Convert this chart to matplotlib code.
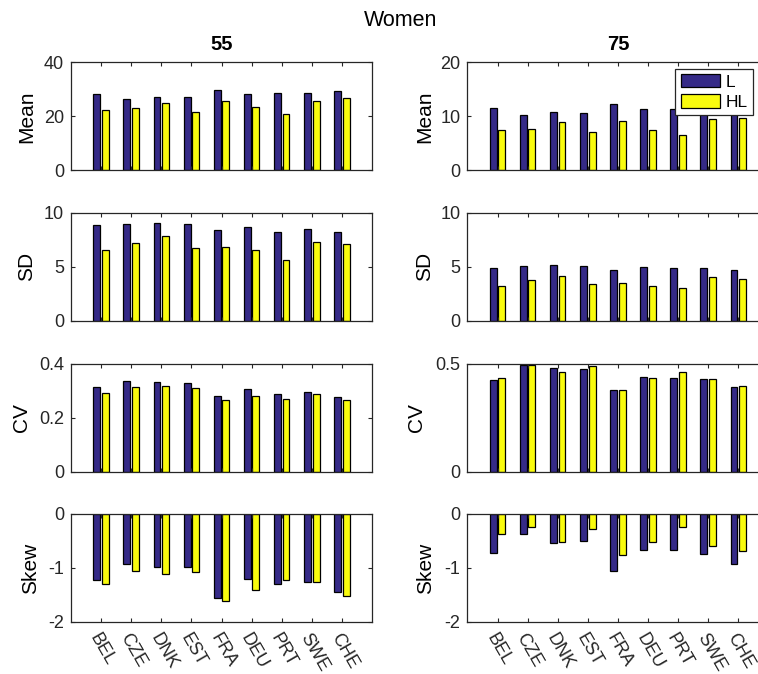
import numpy as np
import matplotlib
matplotlib.use("Agg")
import matplotlib.pyplot as plt

plt.rcParams['font.family'] = ['Liberation Sans', 'DejaVu Sans']

countries = ["BEL", "CZE", "DNK", "EST", "FRA", "DEU", "PRT", "SWE", "CHE"]
series_names = ["L", "HL"]

# Age 55
mean55_L = [28.2, 26.5, 27.1, 27.1, 29.8, 28.2, 28.6, 28.6, 29.4]
mean55_HL = [22.3, 23.1, 24.8, 21.7, 25.6, 23.4, 21.0, 25.5, 26.7]
sd55_L = [8.86, 8.92, 9.07, 8.95, 8.36, 8.67, 8.24, 8.46, 8.18]
sd55_HL = [6.51, 7.22, 7.87, 6.70, 6.82, 6.57, 5.62, 7.31, 7.07]
cv55_L = [0.314, 0.336, 0.335, 0.331, 0.281, 0.308, 0.289, 0.296, 0.279]
cv55_HL = [0.294, 0.314, 0.319, 0.310, 0.268, 0.283, 0.269, 0.289, 0.265]
skew55_L = [-1.23, -0.93, -0.99, -0.99, -1.55, -1.21, -1.29, -1.25, -1.44]
skew55_HL = [-1.30, -1.05, -1.11, -1.07, -1.61, -1.41, -1.23, -1.26, -1.52]

# Age 75
mean75_L = [11.5, 10.2, 10.8, 10.6, 12.3, 11.3, 11.3, 11.6, 12.0]
mean75_HL = [7.4, 7.6, 9.0, 7.0, 9.2, 7.5, 6.6, 9.5, 9.7]
sd75_L = [4.88, 5.03, 5.15, 5.06, 4.66, 4.94, 4.88, 4.87, 4.70]
sd75_HL = [3.21, 3.73, 4.14, 3.43, 3.52, 3.24, 3.02, 4.04, 3.86]
cv75_L = [0.427, 0.495, 0.481, 0.478, 0.378, 0.439, 0.434, 0.430, 0.395]
cv75_HL = [0.434, 0.494, 0.464, 0.491, 0.381, 0.433, 0.464, 0.430, 0.400]
skew75_L = [-0.72, -0.37, -0.54, -0.50, -1.06, -0.67, -0.67, -0.74, -0.92]
skew75_HL = [-0.37, -0.24, -0.51, -0.27, -0.76, -0.51, -0.24, -0.59, -0.69]

row_labels = ["Mean", "SD", "CV", "Skew"]
col_titles = ["55", "75"]

panels = [
    [(mean55_L, mean55_HL), (mean75_L, mean75_HL)],
    [(sd55_L, sd55_HL), (sd75_L, sd75_HL)],
    [(cv55_L, cv55_HL), (cv75_L, cv75_HL)],
    [(skew55_L, skew55_HL), (skew75_L, skew75_HL)],
]
ylims = [[(0, 40), (0, 20)], [(0, 10), (0, 10)], [(0, 0.4), (0, 0.5)], [(-2, 0), (-2, 0)]]
yticks = [[[0, 20, 40], [0, 10, 20]], [[0, 5, 10], [0, 5, 10]],
          [[0, 0.2, 0.4], [0, 0.5]], [[-2, -1, 0], [-2, -1, 0]]]
ytick_fmt = [[["0", "20", "40"], ["0", "10", "20"]], [["0", "5", "10"], ["0", "5", "10"]],
             [["0", "0.2", "0.4"], ["0", "0.5"]], [["-2", "-1", "0"], ["-2", "-1", "0"]]]
# horizontal position of each y label (axes fraction)
ylabel_x = [[-0.147, -0.143], [-0.147, -0.143], [-0.166, -0.168], [-0.136, -0.140]]

c_L = "#352a87"
c_HL = "#f9fb0e"
spine_c = "#262626"

W, H = 758, 674
fig = plt.figure(figsize=(W / 100, H / 100), dpi=100)

col_x = [71 / W, 467.4 / W]
ax_w = 301 / W
row_top = [62.3, 212.7, 364.0, 514.0]
ax_h = 108 / H

x = np.arange(1, len(countries) + 1)
bw = 0.2286
off = 0.1429

axes = {}
for r in range(4):
    for c in range(2):
        bottom = 1 - (row_top[r] + 108) / H
        ax = fig.add_axes([col_x[c], bottom, ax_w, ax_h])
        axes[(r, c)] = ax
        L, HL = panels[r][c]
        ax.bar(x - off, L, bw, color=c_L, edgecolor="black", linewidth=0.9, label=series_names[0])
        ax.bar(x + off, HL, bw, color=c_HL, edgecolor="black", linewidth=0.9, label=series_names[1])
        ax.set_xlim(0, 10)
        ax.set_ylim(*ylims[r][c])
        ax.set_yticks(yticks[r][c])
        ax.set_yticklabels(ytick_fmt[r][c])
        ax.set_xticks(x)
        if r == 3:
            ax.set_xticklabels(countries, rotation=-60, ha="left", va="top",
                               rotation_mode="anchor")
        else:
            ax.set_xticklabels([])
        ax.tick_params(direction="in", length=3, width=0.8, top=True, right=True,
                       labelsize=13, colors=spine_c, pad=5)
        ax.tick_params(axis="x", pad=6)
        for s in ax.spines.values():
            s.set_color(spine_c)
            s.set_linewidth(0.9)
        ax.set_ylabel(row_labels[r], fontsize=15, color="black", va="center")
        ax.yaxis.set_label_coords(ylabel_x[r][c], 0.5)
        if r == 0:
            ax.set_title(col_titles[c], fontsize=14.5, fontweight="bold", pad=9)

leg = axes[(0, 1)].legend(loc="upper right", bbox_to_anchor=(753 / W, 1 - 69 / H),
                          bbox_transform=fig.transFigure, borderaxespad=0,
                          fancybox=False, framealpha=1, edgecolor="#262626",
                          fontsize=12.5, handlelength=2.3, handleheight=0.8,
                          labelspacing=0.25, handletextpad=0.3, borderpad=0.3)
leg.get_frame().set_linewidth(0.9)

fig.text(401 / W, 1 - 20 / H, "Women", ha="center", va="center", fontsize=15.5)

fig.savefig("out.png", dpi=100)
